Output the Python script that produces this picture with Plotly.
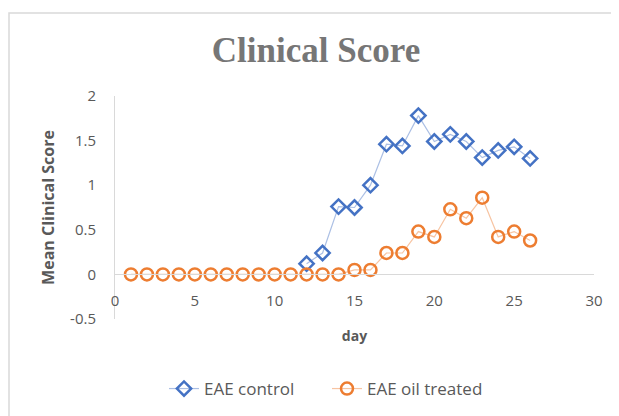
import plotly.graph_objects as go

title = "Clinical Score"
x_label = "day"
y_label = "Mean Clinical Score"

control_days = [12, 13, 14, 15, 16, 17, 18, 19, 20, 21, 22, 23, 24, 25, 26]
control_vals = [0.12, 0.24, 0.76, 0.75, 1.0, 1.46, 1.44, 1.78, 1.49, 1.57, 1.49, 1.31, 1.39, 1.43, 1.30]

oil_days = list(range(1, 27))
oil_vals = [0, 0, 0, 0, 0, 0, 0, 0, 0, 0, 0, 0, 0, 0, 0.05, 0.05, 0.24, 0.24,
            0.48, 0.42, 0.73, 0.63, 0.86, 0.42, 0.48, 0.38]

x_ticks = [0, 5, 10, 15, 20, 25, 30]
y_ticks = [-0.5, 0, 0.5, 1, 1.5, 2]
y_tick_text = ["-0.5", "0", "0.5", "1", "1.5", "2"]

# page body has an 8px margin; compensate
OFF = 8
W, H = 619 - OFF, 416 - OFF
L, T = 115 - OFF, 96 - OFF
pw, ph = 479, 223
R, B = W - L - pw, H - T - ph


def py(y_screen):
    return (T + ph - (y_screen - OFF)) / ph


def px(x_screen):
    return ((x_screen - OFF) - L) / pw


fig = go.Figure()
fig.add_trace(go.Scatter(
    x=control_days, y=control_vals, name="EAE control", mode="lines+markers",
    line=dict(color="rgba(68,114,196,0.45)", width=1.2),
    marker=dict(symbol="diamond-open", size=11, color="#4472C4", line=dict(width=2.5, color="#4472C4")),
))
fig.add_trace(go.Scatter(
    x=oil_days, y=oil_vals, name="EAE oil treated", mode="lines+markers",
    line=dict(color="rgba(237,125,49,0.45)", width=1.2),
    marker=dict(symbol="circle-open", size=12, color="#ED7D31", line=dict(width=2.5, color="#ED7D31")),
))

font_fam = "Open Sans, Lato, sans-serif"
fig.update_layout(
    width=W, height=H,
    margin=dict(l=L, r=R, t=T, b=B, autoexpand=False),
    paper_bgcolor="white", plot_bgcolor="white",
    title=dict(text="<b>" + title + "</b>", x=(316 - OFF) / W, xanchor="center",
               y=1 - (50 - OFF) / H, yanchor="middle",
               font=dict(family="Liberation Serif, DejaVu Serif, serif", size=35, color="#767676")),
    xaxis=dict(range=[0, 30], tickvals=x_ticks, showgrid=False, zeroline=False, automargin=False,
               anchor="free", position=0.2, showline=True, linecolor="#d9d9d9", linewidth=1,
               ticks="outside", ticklen=13, tickcolor="rgba(0,0,0,0)",
               tickfont=dict(family=font_fam, size=15, color="#595959"),
               title=dict(text="<b>" + x_label + "</b>", standoff=21,
                          font=dict(family=font_fam, size=14, color="#595959"))),
    yaxis=dict(range=[-0.5, 2], tickvals=y_ticks, ticktext=y_tick_text, showgrid=False,
               zeroline=False, automargin=False,
               showline=True, linecolor="#d9d9d9", linewidth=1,
               ticks="outside", ticklen=15, tickcolor="rgba(0,0,0,0)",
               tickfont=dict(family=font_fam, size=15, color="#595959"),
               title=dict(text="<b>" + y_label + "</b>", standoff=11,
                          font=dict(family=font_fam, size=16, color="#595959"))),
    legend=dict(orientation="h", x=px(164), xanchor="left", y=py(389),
                yanchor="middle", font=dict(family=font_fam, size=17, color="#595959"),
                entrywidth=118, tracegroupgap=0),
    showlegend=True,
)

# chart border
fig.add_shape(type="rect", xref="paper", yref="paper",
              x0=px(9), x1=px(640), y0=py(440), y1=py(13),
              line=dict(color="#d9d9d9", width=1.5), layer="below")

fig.write_html("out.html")
